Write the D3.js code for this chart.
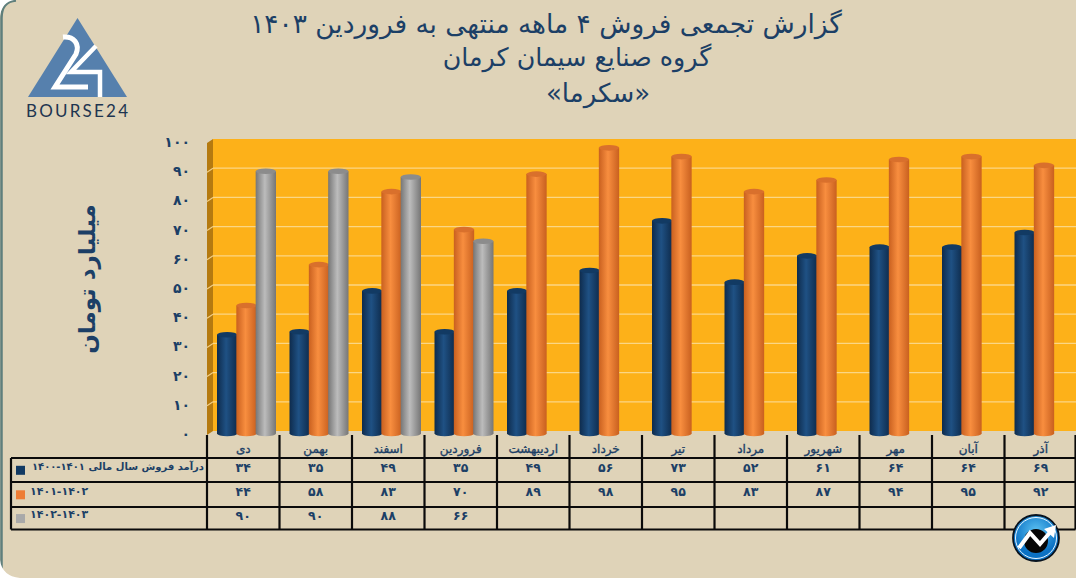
<!DOCTYPE html>
<html lang="fa"><head><meta charset="utf-8">
<style>html,body{margin:0;padding:0;background:#dfd3b8;overflow:hidden}svg{display:block}
text{font-family:"DejaVu Sans","Noto Sans",sans-serif}</style>
<script src="https://cdn.jsdelivr.net/npm/d3@7/dist/d3.min.js"></script></head><body>
<svg id="c" width="1076" height="578"></svg>
<script>
const titleLines = ["گزارش تجمعی فروش ۴ ماهه منتهی به فروردین ۱۴۰۳","گروه صنایع سیمان کرمان","«سکرما»"];
const unitLabel = "میلیارد تومان";
const months = ["دی","بهمن","اسفند","فروردین","اردیبهشت","خرداد","تیر","مرداد","شهریور","مهر","آبان","آذر"];
const seriesNames = ["درآمد فروش سال مالی \u2066۱۴۰۰-۱۴۰۱\u2069","۱۴۰۱-۱۴۰۲","۱۴۰۲-۱۴۰۳"];
const values1 = [34,35,49,35,49,56,73,52,61,64,64,69];
const values2 = [44,58,83,70,89,98,95,83,87,94,95,92];
const values3 = [90,90,88,66];
const yTicks = [0,10,20,30,40,50,60,70,80,90,100];
const series = [values1,values2,values3];
const palette = [
 {edge:"#0e2b4c",mid:"#1f5184",top:"#123a63",key:"#123a63"},
 {edge:"#c9601f",mid:"#f88e3f",top:"#d9702c",key:"#ee7d35"},
 {edge:"#767676",mid:"#bcbcbc",top:"#8c8c8c",key:"#a9a9a9"}];
const fa = n => String(n).replace(/\d/g,d=>"۰۱۲۳۴۵۶۷۸۹"[d]);
const ink = "#1c3f66";

const svg = d3.select("#c");
const defs = svg.append("defs");
palette.forEach((p,i)=>{
  const g = defs.append("linearGradient").attr("id","cyl"+i);
  g.append("stop").attr("offset","0%").attr("stop-color",p.edge);
  g.append("stop").attr("offset","45%").attr("stop-color",p.mid);
  g.append("stop").attr("offset","100%").attr("stop-color",p.edge);
});
const ig = defs.append("radialGradient").attr("id","ic").attr("cy","35%");
ig.append("stop").attr("offset","0%").attr("stop-color","#5cc2f2");
ig.append("stop").attr("offset","100%").attr("stop-color","#0a71c4");

// page frame
svg.append("rect").attr("width",1076).attr("height",578).attr("fill","#dfd3b8");
svg.append("path").attr("d","M1.5,578V18Q1.5,1.5 16,0.5").attr("fill","none").attr("stroke","#5f7f7c").attr("stroke-width",2.5);
svg.append("path").attr("d","M0,0H14Q2,2 0,16Z").attr("fill","#fff");
svg.append("path").attr("d","M0,560Q2,576 20,578H0Z").attr("fill","#fff");

// scales
const x = d3.scaleBand().domain(months).range([207,1077]);
const inner = d3.scaleBand().domain([0,1,2]).range([10,68]);
const y = d3.scaleLinear().domain([0,100]).range([434,142]);
const dX = 6, dY = 4;

// walls
const wall = svg.append("g");
wall.append("rect").attr("x",207+dX).attr("y",y(100)-dY+1).attr("width",1076-207-dX).attr("height",y(0)-y(100)).attr("fill","#fdb119");
wall.append("path").attr("d",`M207,${y(100)+1}L${207+dX},${y(100)-dY+1}V${y(0)-dY+1}L207,${y(0)+1}Z`).attr("fill","#b57a10");
wall.selectAll("g.grid").data(yTicks.slice(1,-1)).join("g").attr("class","grid").each(function(t){
  const s = d3.select(this), yy = y(t);
  s.append("line").attr("x1",207+dX).attr("x2",1076).attr("y1",yy-dY+1).attr("y2",yy-dY+1).attr("stroke","#fbd685").attr("stroke-width",1.3);
  s.append("line").attr("x1",207).attr("x2",207+dX).attr("y1",yy+1).attr("y2",yy-dY+1).attr("stroke","#f3cf85").attr("stroke-width",1.2);
});

// y tick labels
svg.append("g").selectAll("text").data(yTicks).join("text")
  .attr("x",190).attr("y",d=>y(d)+1).attr("text-anchor","end").attr("dominant-baseline","middle")
  .attr("font-size",14).attr("font-weight",700).attr("fill",ink).text(d=>fa(d));

// cylinders
const bars = svg.append("g");
months.forEach((m,mi)=>{
  series.forEach((vals,si)=>{
    const v = vals[mi];
    if(v===undefined) return;
    const bx = x(m)+inner(si), w = inner.bandwidth()+1, cx = bx+w/2, top = y(v), base = y(0)-0.5, ry = 2.8;
    bars.append("path")
      .attr("d",`M${bx},${top}V${base}A${w/2},${ry} 0 0 0 ${bx+w},${base}V${top}Z`)
      .attr("fill",`url(#cyl${si})`);
    bars.append("ellipse").attr("cx",cx).attr("cy",top).attr("rx",w/2).attr("ry",ry).attr("fill",palette[si].top);
  });
});

// data table
const rowY = [458,482,507,529.5], left = 11, right = 1075.5;
const tbl = svg.append("g").attr("stroke","#0a0a0a").attr("stroke-width",2.2);
rowY.forEach(r=>tbl.append("line").attr("x1",left).attr("x2",right).attr("y1",r).attr("y2",r));
tbl.append("line").attr("x1",left).attr("x2",left).attr("y1",rowY[0]).attr("y2",rowY[3]);
months.concat(["_end"]).forEach((m,i)=>{
  const xx = i<months.length ? x(m) : right;
  tbl.append("line").attr("x1",xx).attr("x2",xx).attr("y1",435).attr("y2",rowY[3]);
});
svg.append("g").selectAll("text").data(months).join("text")
  .attr("x",m=>x(m)+x.bandwidth()/2).attr("y",449).attr("text-anchor","middle").attr("dominant-baseline","middle")
  .attr("font-size",12).attr("fill",ink).attr("stroke",ink).attr("stroke-width",0.35).text(m=>m);
series.forEach((vals,si)=>{
  const cy = (rowY[si]+rowY[si+1])/2-2;
  svg.append("g").selectAll("text").data(vals).join("text")
    .attr("x",(d,i)=>x(months[i])+x.bandwidth()/2).attr("y",cy).attr("text-anchor","middle").attr("dominant-baseline","middle")
    .attr("font-size",12.5).attr("font-weight",700).attr("fill",ink).text(d=>fa(d));
  svg.append("rect").attr("x",16).attr("y",cy-2.2).attr("width",9).attr("height",9).attr("fill",palette[si].key);
});
svg.append("text").attr("x",204).attr("y",467).attr("text-anchor","start").attr("direction","rtl").attr("dominant-baseline","middle")
  .attr("font-size",10).attr("font-weight",700).attr("fill",ink).text(seriesNames[0]);
[1,2].forEach(i=>svg.append("text").attr("x",30).attr("y",(rowY[i]+rowY[i+1])/2-3).attr("dominant-baseline","middle")
  .attr("font-size",11).attr("font-weight",700).attr("fill",ink).text(seriesNames[i]));

// title
svg.append("g").selectAll("text").data(titleLines).join("text")
  .attr("x",(d,i)=>[546,577,598][i]).attr("y",(d,i)=>[33,66,102][i]).attr("text-anchor","middle").attr("direction","rtl")
  .attr("font-size",(d,i)=>[26.4,25.3,26][i]).attr("fill",ink).text(d=>d);

// unit label
svg.append("text").attr("transform","translate(88,279) rotate(-90)").attr("text-anchor","middle").attr("dominant-baseline","middle")
  .attr("direction","rtl").attr("font-size",23).attr("font-weight",700).attr("fill",ink).text(unitLabel);

// logo
const logo = svg.append("g");
logo.append("path").attr("d","M77.5,18L127,97H28Z").attr("fill","#5680ad");
logo.append("path").attr("d","M63,37C74,36 80,44 76,54L55,87H88").attr("fill","none").attr("stroke","#fff").attr("stroke-width",5);
logo.append("path").attr("d","M96,46L71,72H100V97").attr("fill","none").attr("stroke","#fff").attr("stroke-width",4.5);
logo.append("text").attr("x",26).attr("y",117).attr("textLength",102).attr("font-size",17).attr("fill","#1e3550")
  .style("font-family","Lato,sans-serif").text("BOURSE24");

// corner badge
const b = svg.append("g").attr("transform","translate(1036,538)");
b.append("circle").attr("r",23).attr("fill","url(#ic)").attr("stroke","#08131f").attr("stroke-width",1.8);
b.append("circle").attr("r",20.5).attr("fill","none").attr("stroke","#e8f6ff").attr("stroke-width",1);
b.append("circle").attr("r",12).attr("cy",3).attr("fill","#060606");
b.append("path").attr("d","M-17,10L-6,-5L4,6L16,-8").attr("fill","none").attr("stroke","#fff").attr("stroke-width",4);
b.append("path").attr("d","M20,-13L18,0L8,-9Z").attr("fill","#fff");
</script></body></html>
